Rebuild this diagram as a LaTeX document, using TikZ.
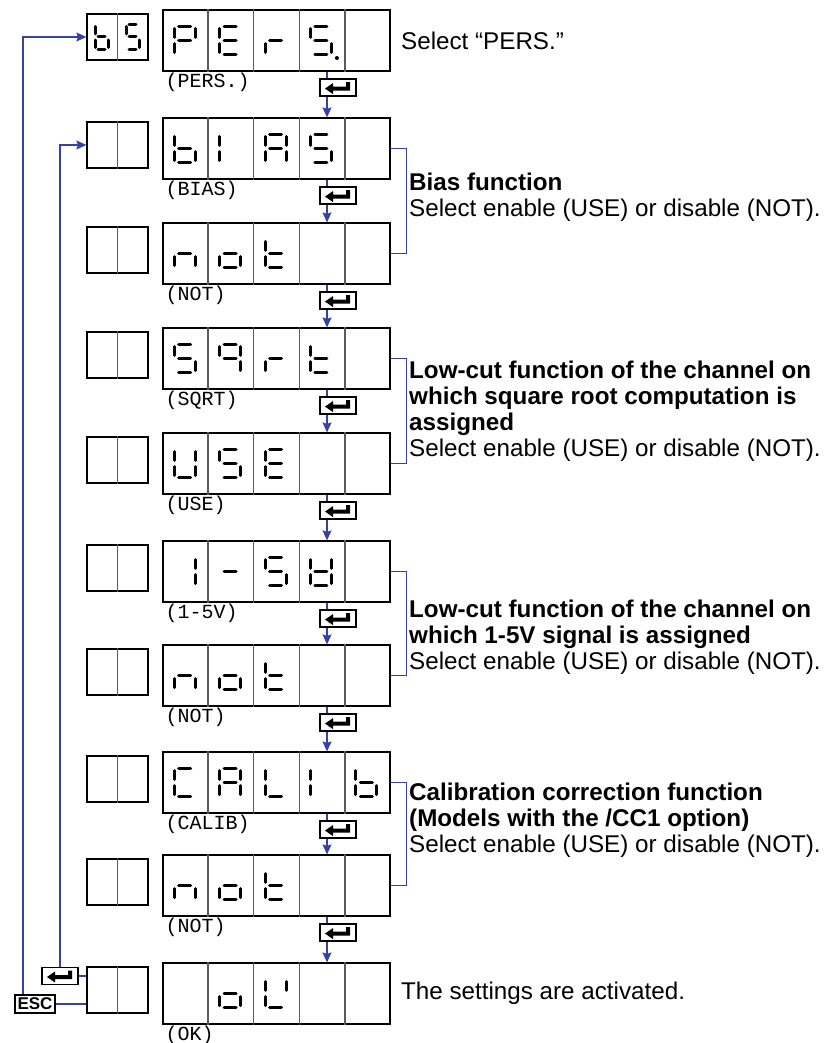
\documentclass[tikz,border=0pt]{standalone}
\usepackage{fontspec}
\setmainfont{Liberation Sans}
\newfontfamily\monof{Liberation Mono}
\usetikzlibrary{arrows.meta,calc}
\definecolor{flowblue}{RGB}{55,65,165}
\definecolor{divgray}{RGB}{90,90,90}
% seven-segment geometry (y grows downwards)
\def\dHX{10.5}\def\dHY{14}\def\dGX{4.5}\def\dGY{2}\def\dGM{3.2}
\newcommand\dsga{\draw[seg] ({-\dHX+\dGX},{-\dHY}) -- ({\dHX-\dGX},{-\dHY});}
\newcommand\dsgb{\draw[seg] ({\dHX},{-\dHY+\dGY}) -- ({\dHX},{-\dGM});}
\newcommand\dsgc{\draw[seg] ({\dHX},{\dGM}) -- ({\dHX},{\dHY-\dGY});}
\newcommand\dsgd{\draw[seg] ({-\dHX+\dGX},{\dHY}) -- ({\dHX-\dGX},{\dHY});}
\newcommand\dsge{\draw[seg] ({-\dHX},{\dGM}) -- ({-\dHX},{\dHY-\dGY});}
\newcommand\dsgf{\draw[seg] ({-\dHX},{-\dHY+\dGY}) -- ({-\dHX},{-\dGM});}
\newcommand\dsgg{\draw[seg] ({-\dHX+\dGX},0) -- ({\dHX-\dGX},0);}
\newcommand\dsgp{\fill ({\dHX+5.5},{\dHY+3.5}) circle (2pt);}
\newcommand\sevseg[3]{\begin{scope}[shift={(#1,#2)}]\foreach \s in {#3}{\csname dsg\s\endcsname}\end{scope}}
\newcommand\dcell[3]{\if\relax\detokenize{#3}\relax\else\sevseg{#1}{#2}{#3}\fi}
\newcommand\drow[6]{%
  \dcell{184.7}{#1}{#2}\dcell{230.1}{#1}{#3}\dcell{275.5}{#1}{#4}%
  \dcell{320.9}{#1}{#5}\dcell{366.3}{#1}{#6}}
\newcommand\enterglyph[1]{\fill[shift={(#1)}] (-13,1) -- (-5,-4.5) -- (-5,-1) -- (8,-1) -- (8,-5.5) -- (12,-5.5) -- (12,3) -- (-5,3) -- (-5,6.5) -- cycle;}
\begin{document}
\begin{tikzpicture}[x=1pt,y=-1pt,
  seg/.style={line width=3pt,line cap=round,black},
  disp/.style={draw=black,line width=1.2pt,minimum width=227pt,minimum height=61pt,inner sep=0pt},
  sbox/.style={draw=black,line width=1.2pt,minimum width=61pt,minimum height=46pt,inner sep=0pt},
  divider/.style={draw=divgray,line width=1.2pt},
  ekey/.style={draw=black,line width=1.5pt,fill=white,minimum width=36pt,minimum height=17pt,inner sep=0pt},
  escbox/.style={draw=black,line width=1.5pt,fill=white,minimum width=40pt,minimum height=18pt,inner sep=0pt,font=\bfseries\fontsize{17}{17}\selectfont},
  flow/.style={draw=flowblue,line width=1.3pt},
  tip/.style={-{Stealth[length=10pt,width=9pt,inset=1.5pt]}},
  bline/.style={draw=flowblue,line width=1.1pt},
  lbl/.style={font=\monof\fontsize{20}{20}\selectfont,inner sep=0pt,anchor=west},
  txt/.style={font=\fontsize{24.2}{26}\selectfont,inner sep=0pt,anchor=west,align=left}]
\useasboundingbox (0,0) rectangle (827,1043);
% displays
\foreach \y/\lab [count=\i] in {40.5/{(PERS.)},148.5/{(BIAS)},253.5/{(NOT)},358.5/{(SQRT)},463.5/{(USE)},571.5/{(1-5V)},675.5/{(NOT)},782.5/{(CALIB)},885.5/{(NOT)},993.5/{(OK)}}{
  \node[disp] (m\i) at (276.5,\y) {};
  \foreach \k in {1,...,4}{\draw[divider] ($(m\i.north west)!\k/5!(m\i.north east)$) -- ($(m\i.south west)!\k/5!(m\i.south east)$);}
  \node[sbox] (s\i) at (117.5,\y-3.5) {};
  \draw[divider] (s\i.north) -- (s\i.south);
  \node[lbl] (l\i) at ($(m\i.south west)+(3,11)$) {\lab};
}
% digits
\drow{40.5}{a,b,e,f,g}{a,d,e,f,g}{e,g}{a,c,d,f,g,p}{}
\drow{148.5}{c,d,e,f,g}{e,f}{a,b,c,e,f,g}{a,c,d,f,g}{}
\drow{253.5}{c,e,g}{c,d,e,g}{d,e,f,g}{}{}
\drow{358.5}{a,c,d,f,g}{a,b,c,f,g}{e,g}{d,e,f,g}{}
\drow{463.5}{b,c,d,e,f}{a,c,d,f,g}{a,d,e,f,g}{}{}
\drow{571.5}{b,c}{g}{a,c,d,f,g}{b,c,d,e,f,g}{}
\drow{675.5}{c,e,g}{c,d,e,g}{d,e,f,g}{}{}
\drow{782.5}{a,d,e,f}{a,b,c,e,f,g}{d,e,f}{e,f}{c,d,e,f,g}
\drow{885.5}{c,e,g}{c,d,e,g}{d,e,f,g}{}{}
\drow{993.5}{}{c,d,e,g}{b,d,e,f}{}{}
{\def\dHX{6.5}\def\dHY{12.5}\def\dGX{3}\def\dGM{3}
 \sevseg{101.5}{37}{c,d,e,f,g}\sevseg{132.5}{37}{a,c,d,f,g}}
% enter keys and flow arrows
\coordinate (ax) at (327,0);
\foreach \i in {1,...,9}{
  \pgfmathtruncatemacro\j{\i+1}
  \node[ekey] (e\i) at ($(m\i.south)+(61.5,16)$) {};
  \enterglyph{e\i.center}
  \draw[flow] (m\i.south -| ax) -- (e\i.north -| ax);
  \draw[flow,tip] (e\i.south -| ax) -- (m\j.north -| ax);
}
% brackets
\foreach \a/\b in {2/3,4/5,6/7,8/9}{
  \draw[bline] (m\a.east) -- ++(16,0) |- (m\b.east);
}
% left return paths
\node[escbox] (esc) at (35,1004) {ESC};
\node[ekey] (ek) at (60,976) {};
\enterglyph{ek.center}
\coordinate (ox) at (23,0);
\draw[flow,tip] (esc.north -| ox) |- (s1.west);
\draw[flow,tip] (ek.north) |- (s2.west);
\draw[flow] (esc.east) -- (esc.east -| s10.west);
\draw[flow] (ek.east) -- (ek.east -| s10.west);
% texts
\node[txt] (t1) at (401,40.5) {Select “PERS.”};
\node[txt] (t2) at (409,197) {\textbf{Bias function}\\Select enable (USE) or disable (NOT).};
\node[txt] (t3) at (409,411) {\textbf{Low-cut function of the channel on}\\\textbf{which square root computation is}\\\textbf{assigned}\\Select enable (USE) or disable (NOT).};
\node[txt] (t4) at (409,637) {\textbf{Low-cut function of the channel on}\\\textbf{which 1-5V signal is assigned}\\Select enable (USE) or disable (NOT).};
\node[txt] (t5) at (409,820) {\textbf{Calibration correction function}\\\textbf{(Models with the /CC1 option)}\\Select enable (USE) or disable (NOT).};
\node[txt] (t6) at (401,993.5) {The settings are activated.};
\end{tikzpicture}
\end{document}
